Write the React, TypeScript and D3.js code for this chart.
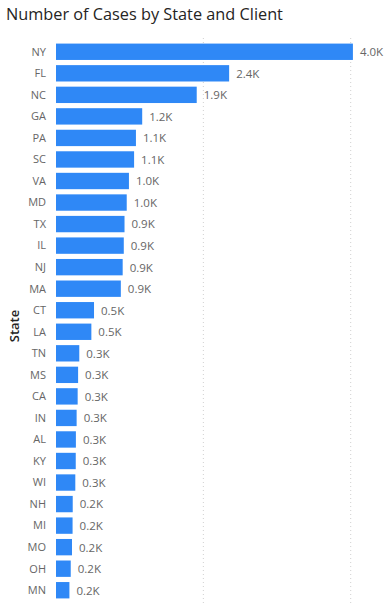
import { useEffect, useRef } from "react";
import * as d3 from "d3";

const states = ["NY", "FL", "NC", "GA", "PA", "SC", "VA", "MD", "TX", "IL", "NJ", "MA", "CT", "LA", "TN", "MS", "CA", "IN", "AL", "KY", "WI", "NH", "MI", "MO", "OH", "MN"];
const cases = [4030, 2350, 1910, 1170, 1085, 1060, 990, 960, 930, 920, 905, 880, 516, 480, 316, 300, 294, 280, 270, 268, 262, 227, 225, 217, 200, 182];
const gridTicks = [2000, 4000];

const App = () => {
  const ref = useRef<SVGSVGElement>(null);

  useEffect(() => {
    const width = 390;
    const height = 603;
    const svg = d3.select(ref.current);
    svg.selectAll("*").remove();

    const x = d3.scaleLinear().domain([0, 4000]).range([56, 350.7]);
    const y = d3
      .scaleBand()
      .domain(states)
      .range([41, 601])
      .paddingInner(0.24)
      .paddingOuter(0.12);

    svg
      .append("text")
      .attr("x", 6)
      .attr("y", 20)
      .attr("font-family", "'Open Sans', sans-serif")
      .attr("font-size", 16.3)
      .attr("fill", "#252423")
      .text("Number of Cases by State and Client");

    // gridlines
    svg
      .selectAll(".grid")
      .data(gridTicks)
      .enter()
      .append("line")
      .attr("x1", (d) => x(d))
      .attr("x2", (d) => x(d))
      .attr("y1", 38)
      .attr("y2", height)
      .attr("stroke", "#d0d0d0")
      .attr("stroke-width", 1)
      .attr("stroke-dasharray", "1,3");

    svg
      .selectAll(".bar")
      .data(states)
      .enter()
      .append("rect")
      .attr("x", x(0))
      .attr("y", (d) => y(d)!)
      .attr("width", (d, i) => x(cases[i]) - x(0))
      .attr("height", y.bandwidth())
      .attr("fill", "#2f88f6");

    svg
      .selectAll(".cat")
      .data(states)
      .enter()
      .append("text")
      .attr("x", 46)
      .attr("y", (d) => y(d)! + y.bandwidth() / 2)
      .attr("dy", "0.35em")
      .attr("text-anchor", "end")
      .attr("font-family", "'Open Sans', sans-serif")
      .attr("font-size", 11)
      .attr("fill", "#666666")
      .text((d) => d);

    svg
      .selectAll(".val")
      .data(states)
      .enter()
      .append("text")
      .attr("x", (d, i) => x(cases[i]) + 7)
      .attr("y", (d) => y(d)! + y.bandwidth() / 2)
      .attr("dy", "0.38em")
      .attr("font-family", "'Open Sans', sans-serif")
      .attr("font-size", 11.5)
      .attr("fill", "#666666")
      .text((d, i) => (cases[i] / 1000).toFixed(1) + "K");

    svg
      .append("text")
      .attr("transform", `translate(19, ${(41 + 601) / 2 + 5}) rotate(-90)`)
      .attr("text-anchor", "middle")
      .attr("font-family", "'Open Sans', sans-serif")
      .attr("font-size", 13)
      .attr("font-weight", 600)
      .attr("fill", "#252423")
      .text("State");

    svg.attr("width", width).attr("height", height);
  }, []);

  return (
    <div style={{ position: "absolute", left: 0, top: 0 }}>
      <svg ref={ref} width={390} height={603} style={{ display: "block", background: "#fff" }} />
    </div>
  );
};

export default App;
